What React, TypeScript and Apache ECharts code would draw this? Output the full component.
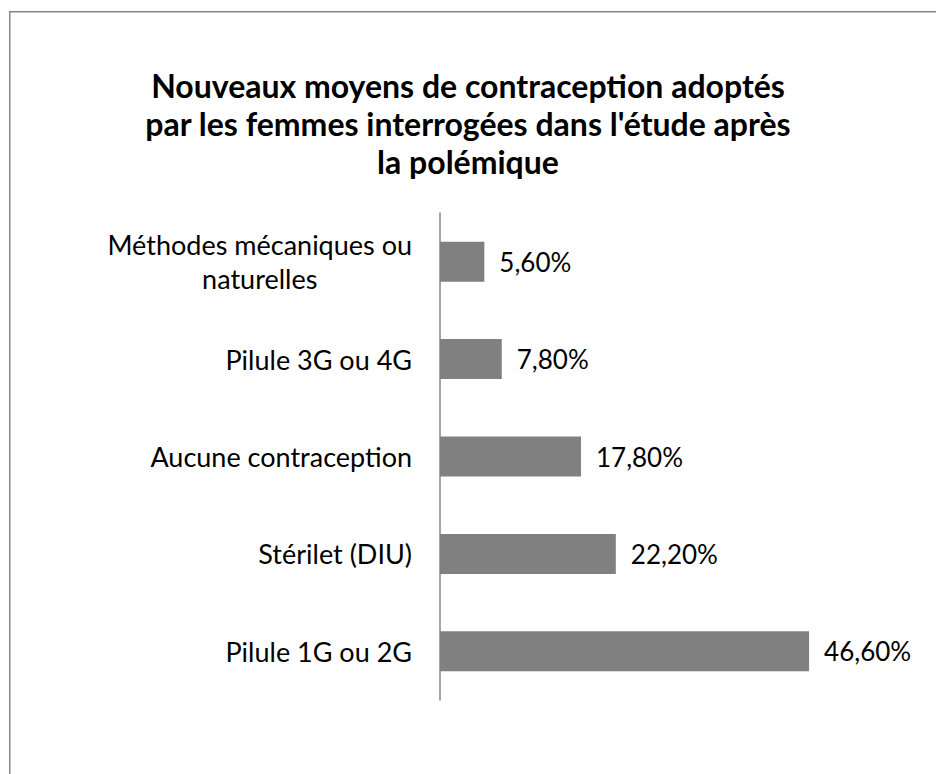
import React, { useEffect, useRef } from "react";
import * as echarts from "echarts";

const categories: string[] = [
  "Pilule 1G ou 2G",
  "Stérilet (DIU)",
  "Aucune contraception",
  "Pilule 3G ou 4G",
  "Méthodes mécaniques ou\nnaturelles",
];
const values: number[] = [46.6, 22.2, 17.8, 7.8, 5.6];
const titleText =
  "Nouveaux moyens de contraception adoptés\npar les femmes interrogées dans l'étude après\nla polémique";

const FONT = "Lato";

export default function App() {
  const ref = useRef<HTMLDivElement>(null);
  useEffect(() => {
    if (!ref.current) return;
    const chart = echarts.init(ref.current, undefined, { renderer: "svg" });
    chart.setOption({
      animation: false,
      backgroundColor: "#ffffff",
      title: {
        text: titleText,
        left: "center",
        top: 66,
        padding: [0, 18, 0, 0],
        textStyle: {
          fontFamily: FONT,
          fontWeight: "bold",
          fontSize: 32,
          lineHeight: 38,
          color: "#000000",
          align: "center",
        },
      },
      graphic: [
        {
          type: "rect",
          shape: { x: 9.75, y: 11.75, width: 1000, height: 1000 },
          style: { fill: "none", stroke: "#868686", lineWidth: 1.5 },
          silent: true,
        },
      ],
      grid: { left: 440, right: 100, top: 213, bottom: 74, containLabel: false },
      xAxis: {
        type: "value",
        min: 0,
        max: 50,
        show: false,
      },
      yAxis: {
        type: "category",
        data: categories,
        axisLine: { show: true, lineStyle: { color: "#868686", width: 1.5 } },
        axisTick: { show: false },
        splitLine: { show: false },
        axisLabel: {
          margin: 28,
          fontFamily: FONT,
          fontSize: 27,
          color: "#000000",
          lineHeight: 34,
          formatter: (v: string) =>
            v
              .split("\n")
              .map((l) => "{a|" + l + "}")
              .join("\n"),
          rich: {
            a: {
              fontFamily: FONT,
              fontSize: 27,
              lineHeight: 34,
              color: "#000000",
              align: "center",
            },
          },
        },
      },
      series: [
        {
          type: "bar",
          data: values,
          barWidth: 40,
          itemStyle: { color: "#808080" },
          label: {
            show: true,
            position: "right",
            distance: 15,
            fontFamily: FONT,
            fontSize: 26,
            color: "#000000",
            formatter: (p: any) => p.value.toFixed(2).replace(".", ",") + "%",
          },
        },
      ],
    });
    return () => chart.dispose();
  }, []);
  return (
    <div
      ref={ref}
      style={{ position: "absolute", left: 0, top: 0, width: 936, height: 774 }}
    />
  );
}
